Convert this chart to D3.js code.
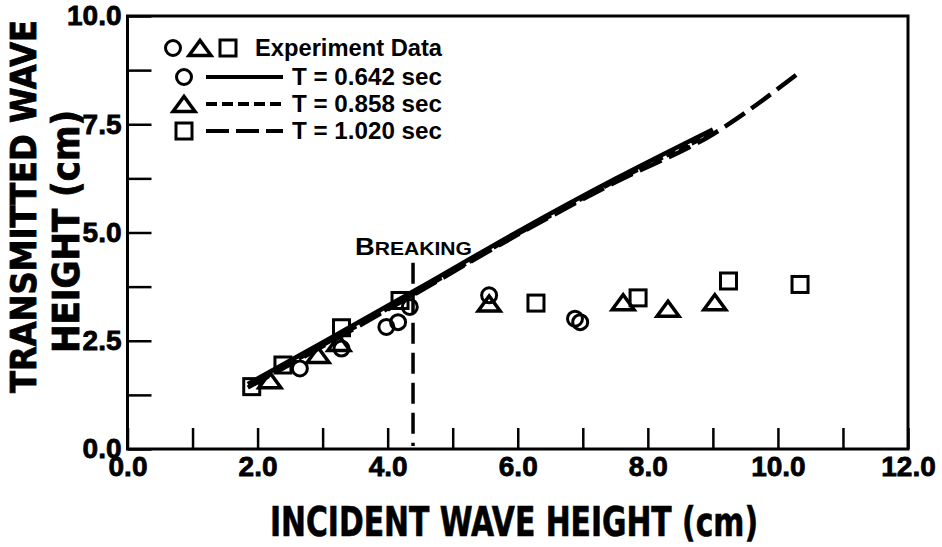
<!DOCTYPE html>
<html>
<head>
<meta charset="utf-8">
<script src="https://cdn.jsdelivr.net/npm/d3@7"></script>
<style>
  body { margin: 0; background: #fff; }
  svg text { font-family: "Liberation Sans", Arial, sans-serif; font-weight: bold; fill: #000; }
  .narrow { font-family: "Liberation Sans Narrow", "DejaVu Sans Condensed", "Liberation Sans", sans-serif; }
</style>
</head>
<body>
<svg id="chart" width="942" height="547"></svg>
<script>
// Axis ticks and labels
const xTickValues = [0, 1, 2, 3, 4, 5, 6, 7, 8, 9, 10, 11, 12];
const xLabelValues = [0, 2, 4, 6, 8, 10, 12];
const yTickValues = [0, 1.25, 2.5, 3.75, 5, 6.25, 7.5, 8.75, 10];
const yLabelValues = [0, 2.5, 5, 7.5, 10];

// Experiment data (incident, transmitted wave height in cm)
const circleX = [2.65, 3.29, 3.98, 4.16, 4.34, 5.56, 6.88, 6.96];   // T = 0.642 sec
const circleY = [1.86, 2.32, 2.82, 2.93, 3.28, 3.55, 3.01, 2.93];
const triangleX = [2.19, 2.93, 3.25, 5.56, 7.62, 8.31, 9.03];        // T = 0.858 sec
const triangleY = [1.59, 2.17, 2.45, 3.36, 3.39, 3.24, 3.39];
const squareX = [1.91, 2.39, 3.29, 4.19, 6.28, 7.85, 9.24, 10.34];   // T = 1.020 sec
const squareY = [1.44, 1.94, 2.80, 3.43, 3.37, 3.49, 3.88, 3.80];

// Computed transmission curves
const curveX642 = [1.85, 3.0, 4.5, 6.0, 7.5, 9.0];
const curveY642 = [1.50, 2.46, 3.73, 5.02, 6.24, 7.38];
const curveX858 = [1.88, 3.0, 4.5, 6.0, 7.5, 9.05];
const curveY858 = [1.46, 2.40, 3.67, 4.97, 6.19, 7.33];
const curveX1020 = [1.85, 3.0, 4.5, 6.0, 7.5, 9.0, 10.35];
const curveY1020 = [1.42, 2.37, 3.65, 4.95, 6.16, 7.27, 8.72];

// Breaking limit
const breakingX = 4.39;
const breakingTop = 4.3;

const legendLabels = ["Experiment Data", "T = 0.642 sec", "T = 0.858 sec", "T = 1.020 sec"];

const svg = d3.select("#chart");
const x = d3.scaleLinear().domain([0, 12]).range([127.5, 908]);
const y = d3.scaleLinear().domain([0, 10]).range([449, 16]);

const fmt1 = d3.format(".1f");

// Bottom axis: inward ticks every 1.0, labels every 2.0
const xAxis = d3.axisBottom(x)
  .tickValues(xTickValues)
  .tickSize(-21)
  .tickPadding(7)
  .tickFormat(d => xLabelValues.includes(d) ? fmt1(d) : "");
const gx = svg.append("g").attr("transform", `translate(0,${y(0)})`).call(xAxis);

// Left axis: inward ticks every 1.25, labels every 2.5
const yAxis = d3.axisLeft(y)
  .tickValues(yTickValues)
  .tickSize(-24)
  .tickPadding(6)
  .tickFormat(d => yLabelValues.includes(d) ? fmt1(d) : "");
const gy = svg.append("g").attr("transform", `translate(${x(0)},0)`).call(yAxis);

[gx, gy].forEach(g => {
  g.select(".domain").remove();
  g.selectAll(".tick line").attr("stroke", "#000").attr("stroke-width", 2.5);
  g.selectAll(".tick text")
    .attr("font-size", 28)
    .attr("font-family", "Liberation Sans, Arial, sans-serif")
    .attr("font-weight", "bold")
    .attr("fill", "#000")
    .attr("stroke", "#000")
    .attr("stroke-width", 0.8);
});

// Plot frame
svg.append("rect")
  .attr("x", x(0)).attr("y", y(10))
  .attr("width", x(12) - x(0)).attr("height", y(0) - y(10))
  .attr("fill", "none").attr("stroke", "#000").attr("stroke-width", 3);

// Axis titles
svg.append("text").attr("class", "narrow")
  .attr("x", 514).attr("y", 536)
  .attr("text-anchor", "middle")
  .attr("font-size", 40)
  .attr("stroke", "#000").attr("stroke-width", 0.6)
  .attr("textLength", 488).attr("lengthAdjust", "spacingAndGlyphs")
  .text("INCIDENT WAVE HEIGHT (cm)");

svg.append("text").attr("class", "narrow")
  .attr("transform", "translate(36,206.5) rotate(-90)")
  .attr("text-anchor", "middle")
  .attr("font-size", 36)
  .attr("stroke", "#000").attr("stroke-width", 0.8)
  .attr("textLength", 373).attr("lengthAdjust", "spacingAndGlyphs")
  .text("TRANSMITTED WAVE");

svg.append("text").attr("class", "narrow")
  .attr("transform", "translate(79,231.5) rotate(-90)")
  .attr("text-anchor", "middle")
  .attr("font-size", 37)
  .attr("stroke", "#000").attr("stroke-width", 0.8)
  .attr("textLength", 243).attr("lengthAdjust", "spacingAndGlyphs")
  .text("HEIGHT (cm)");

// Breaking limit line and label
svg.append("line")
  .attr("x1", x(breakingX)).attr("x2", x(breakingX))
  .attr("y1", y(breakingTop)).attr("y2", y(0) - 3)
  .attr("stroke", "#000").attr("stroke-width", 3.5)
  .attr("stroke-dasharray", "21,9");

const brk = svg.append("text")
  .attr("x", 355).attr("y", 255)
  .attr("textLength", 117).attr("lengthAdjust", "spacingAndGlyphs");
brk.append("tspan").attr("font-size", 24).text("B");
brk.append("tspan").attr("font-size", 18.5).text("REAKING");

// Curves
const lineGen = d3.line().x(d => x(d[0])).y(d => y(d[1])).curve(d3.curveMonotoneX);
const zip = (a, b) => a.map((v, i) => [v, b[i]]);

const curves = [
  { pts: zip(curveX642, curveY642), dash: null },
  { pts: zip(curveX858, curveY858), dash: "10,4" },
  { pts: zip(curveX1020, curveY1020), dash: "24,8" }
];
curves.forEach(c => {
  svg.append("path")
    .attr("d", lineGen(c.pts))
    .attr("fill", "none")
    .attr("stroke", "#000")
    .attr("stroke-width", 4.5)
    .attr("stroke-dasharray", c.dash);
});

// Marker drawing helpers
const SQ = 16, CR = 7.5, TW = 22, TH = 15;
function drawCircle(g, cx, cy) {
  g.append("circle").attr("cx", cx).attr("cy", cy).attr("r", CR)
    .attr("fill", "none").attr("stroke", "#000").attr("stroke-width", 3);
}
function drawSquare(g, cx, cy) {
  g.append("rect").attr("x", cx - SQ / 2).attr("y", cy - SQ / 2)
    .attr("width", SQ).attr("height", SQ)
    .attr("fill", "none").attr("stroke", "#000").attr("stroke-width", 3);
}
function drawTriangle(g, cx, cy) {
  g.append("path")
    .attr("d", `M${cx - TW / 2},${cy + TH / 2}L${cx},${cy - TH / 2}L${cx + TW / 2},${cy + TH / 2}Z`)
    .attr("fill", "none").attr("stroke", "#000").attr("stroke-width", 3.5)
    .attr("stroke-linejoin", "miter");
}

const marks = svg.append("g");
circleX.forEach((v, i) => drawCircle(marks, x(v), y(circleY[i])));
triangleX.forEach((v, i) => drawTriangle(marks, x(v), y(triangleY[i])));
squareX.forEach((v, i) => drawSquare(marks, x(v), y(squareY[i])));

// Legend
const leg = svg.append("g");
const rowY = [48, 77, 104, 131];
drawCircle(leg, 173, rowY[0]);
drawTriangle(leg, 200, rowY[0]);
drawSquare(leg, 228, rowY[0]);
drawCircle(leg, 184, rowY[1]);
drawTriangle(leg, 184, rowY[2]);
drawSquare(leg, 184, rowY[3]);

[null, "11,5", "23,7"].forEach((dash, i) => {
  leg.append("line")
    .attr("x1", 206).attr("x2", 283)
    .attr("y1", rowY[i + 1]).attr("y2", rowY[i + 1])
    .attr("stroke", "#000").attr("stroke-width", 4)
    .attr("stroke-dasharray", dash);
});

const legWidths = [187, 150, 150, 150];
legendLabels.forEach((t, i) => {
  leg.append("text")
    .attr("x", 442).attr("y", rowY[i] + 8)
    .attr("text-anchor", "end")
    .attr("font-size", 23)
    .attr("textLength", legWidths[i]).attr("lengthAdjust", "spacingAndGlyphs")
    .text(t);
});
</script>
</body>
</html>
